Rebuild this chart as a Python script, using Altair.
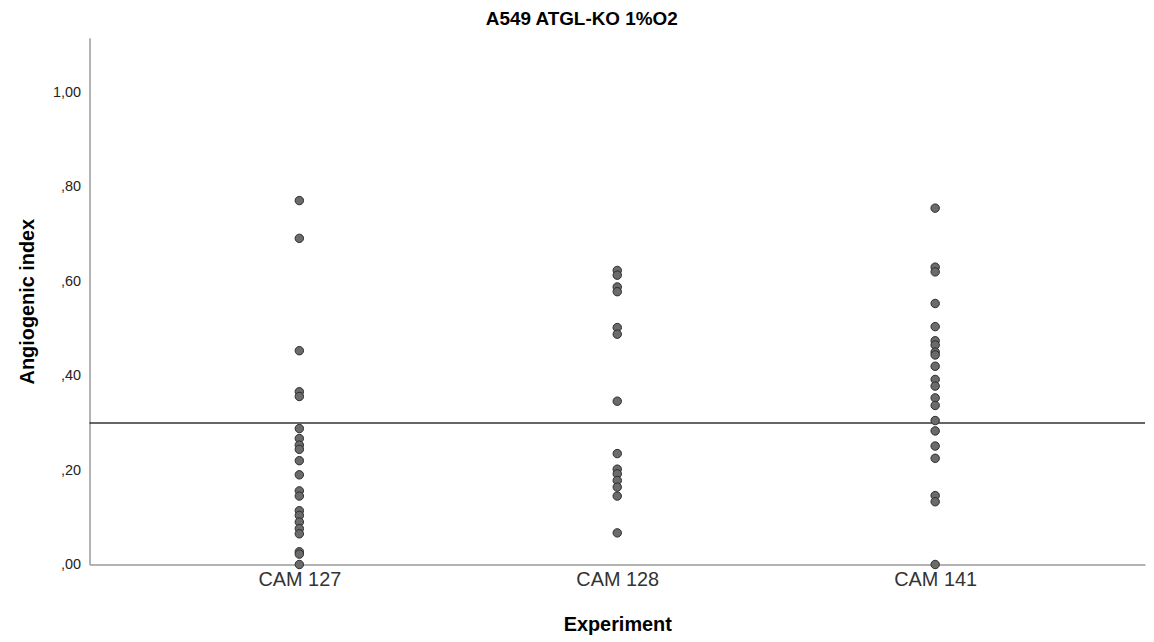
import altair as alt
import pandas as pd

categories = ["CAM 127", "CAM 128", "CAM 141"]

cam127 = [0.771, 0.691, 0.453, 0.366, 0.356, 0.288, 0.267, 0.253, 0.244, 0.220,
          0.190, 0.156, 0.145, 0.114, 0.104, 0.090, 0.076, 0.065, 0.027, 0.022, 0.0]
cam128 = [0.623, 0.613, 0.588, 0.578, 0.502, 0.488, 0.346, 0.235, 0.202, 0.192,
          0.178, 0.164, 0.145, 0.067]
cam141 = [0.755, 0.630, 0.620, 0.553, 0.504, 0.474, 0.465, 0.450, 0.444, 0.420,
          0.392, 0.378, 0.353, 0.337, 0.305, 0.283, 0.251, 0.225, 0.146, 0.133, 0.0]

reference_value = 0.30
y_ticks = [0.0, 0.2, 0.4, 0.6, 0.8, 1.0]

rows = []
for cat, vals in zip(categories, [cam127, cam128, cam141]):
    for v in vals:
        rows.append({"Experiment": cat, "Angiogenic index": v})
df = pd.DataFrame(rows)

FONT = "Liberation Sans"

points = alt.Chart(df).mark_point(
    filled=True, shape="circle", size=72, fill="#6b6b6b", stroke="#2b2b2b",
    strokeWidth=1, opacity=1
).encode(
    x=alt.X("Experiment:N", sort=categories,
            scale=alt.Scale(type="point", padding=0.66),
            axis=alt.Axis(title="Experiment", labelAngle=0, ticks=False,
                          labelFontSize=20, labelColor="#333333", labelPadding=5,
                          titleFontSize=20, titleFontWeight="bold", titleColor="#000000",
                          titlePadding=25, domainColor="#9a9a9a", domainWidth=1.5)),
    y=alt.Y("Angiogenic index:Q",
            scale=alt.Scale(domain=[0, 1.116], nice=False, zero=True),
            axis=alt.Axis(title="Angiogenic index", values=y_ticks, ticks=False,
                          labelExpr="datum.value >= 1 ? '1,00' : ',' + substring(format(datum.value, '.2f'), 2)",
                          labelFontSize=14.5, labelColor="#222222", labelPadding=9,
                          titleFontSize=20, titleFontWeight="bold", titleColor="#000000",
                          titlePadding=15, domainColor="#9a9a9a", domainWidth=1.5,
                          grid=False)),
)

ref = alt.Chart(pd.DataFrame({"y": [reference_value]})).mark_rule(
    color="#333333", strokeWidth=1.5
).encode(y="y:Q")

chart = alt.layer(ref, points).properties(
    width=1062, height=530,
    title=alt.TitleParams("A549 ATGL-KO 1%O2", fontSize=19, fontWeight="bold",
                          font=FONT, anchor="middle", frame="bounds", offset=9),
    padding={"left": 9, "top": 0, "right": 0, "bottom": 0},
).configure(background="white").configure_view(stroke=None).configure_axis(
    labelFont=FONT, titleFont=FONT
)

chart.save("out.html", embed_options={"renderer": "svg", "actions": False})
